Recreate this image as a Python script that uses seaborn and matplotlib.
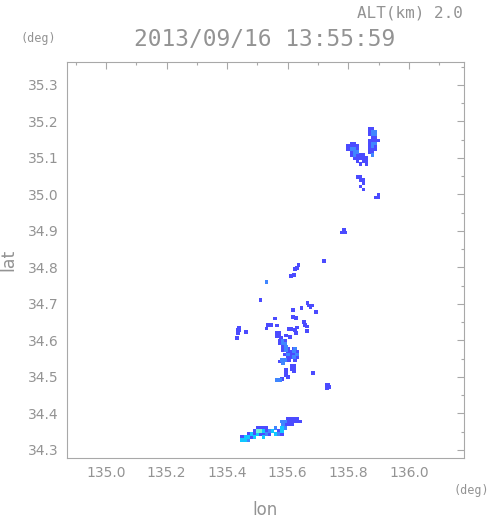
import matplotlib
matplotlib.use('Agg')  # no display
import matplotlib.pyplot as plt
import matplotlib.ticker as ticker
import seaborn as sns
import pandas as pd

# radar echo cells (lon, lat) grouped by intensity class
cells_blue = [
    # NE cluster, right part
    (135.87, 35.180), (135.88, 35.180), (135.87, 35.172), (135.87, 35.164),
    (135.88, 35.156), (135.89, 35.156), (135.87, 35.148), (135.88, 35.148),
    (135.89, 35.148), (135.90, 35.148), (135.87, 35.140), (135.87, 35.132),
    (135.89, 35.132), (135.87, 35.124), (135.88, 35.124), (135.89, 35.124),
    (135.87, 35.116), (135.88, 35.116),
    # NE cluster, left part
    (135.81, 35.140), (135.82, 35.140), (135.80, 35.132), (135.81, 35.132),
    (135.82, 35.132), (135.83, 35.132), (135.80, 35.124), (135.83, 35.124),
    (135.81, 35.116), (135.81, 35.108), (135.83, 35.108), (135.84, 35.108),
    (135.85, 35.108), (135.82, 35.100), (135.83, 35.100), (135.84, 35.100),
    (135.85, 35.100), (135.86, 35.100), (135.83, 35.092), (135.85, 35.092),
    (135.86, 35.092), (135.84, 35.084), (135.86, 35.084),
    # small ones further south
    (135.83, 35.048), (135.84, 35.048), (135.84, 35.040), (135.85, 35.040),
    (135.85, 35.032), (135.84, 35.022), (135.85, 35.014),
    (135.90, 34.998), (135.89, 34.992), (135.90, 34.992),
    (135.78, 34.896), (135.79, 34.896), (135.785, 34.902),
    # middle scattered echoes
    (135.635, 34.806), (135.63, 34.798), (135.625, 34.795),
    (135.61, 34.777), (135.62, 34.779), (135.72, 34.818),
    (135.51, 34.711),
    (135.665, 34.703), (135.67, 34.696), (135.68, 34.696), (135.675, 34.690),
    (135.645, 34.689), (135.693, 34.678), (135.617, 34.684),
    (135.617, 34.665), (135.627, 34.662), (135.558, 34.660),
    (135.44, 34.636), (135.435, 34.628), (135.44, 34.628), (135.435, 34.621),
    (135.432, 34.607), (135.462, 34.623),
    (135.535, 34.642), (135.545, 34.642), (135.53, 34.633), (135.565, 34.641),
    (135.605, 34.632), (135.612, 34.632),
    (135.63, 34.636), (135.623, 34.628), (135.627, 34.621),
    (135.654, 34.650), (135.658, 34.642), (135.664, 34.638), (135.663, 34.626),
    (135.563, 34.620), (135.572, 34.620), (135.565, 34.612), (135.572, 34.612),
    (135.578, 34.606), (135.595, 34.614), (135.607, 34.610),
    (135.573, 34.600), (135.593, 34.600), (135.573, 34.592),
    (135.585, 34.582), (135.585, 34.574),
    (135.60, 34.578), (135.62, 34.578),
    (135.60, 34.570), (135.61, 34.570), (135.63, 34.570),
    (135.59, 34.562), (135.61, 34.562), (135.62, 34.562),
    (135.60, 34.554), (135.61, 34.554), (135.63, 34.554),
    (135.605, 34.546), (135.625, 34.546), (135.575, 34.542),
    (135.613, 34.530), (135.62, 34.530), (135.613, 34.522), (135.62, 34.522),
    (135.62, 34.515), (135.595, 34.520), (135.595, 34.512), (135.595, 34.506),
    (135.60, 34.500), (135.58, 34.495), (135.683, 34.511),
    (135.728, 34.478), (135.735, 34.478), (135.73, 34.470), (135.737, 34.472),
    # southern band
    (135.60, 34.386), (135.61, 34.386), (135.62, 34.386), (135.63, 34.386),
    (135.60, 34.378), (135.61, 34.378), (135.62, 34.378), (135.63, 34.378),
    (135.64, 34.378), (135.595, 34.370), (135.605, 34.370), (135.615, 34.370),
    (135.45, 34.336), (135.47, 34.344), (135.48, 34.336), (135.49, 34.352),
    (135.49, 34.344), (135.50, 34.360), (135.51, 34.360), (135.51, 34.344),
    (135.52, 34.360), (135.52, 34.344), (135.53, 34.360), (135.53, 34.352),
    (135.54, 34.344), (135.57, 34.352), (135.58, 34.344),
]

cells_light = [
    (135.88, 35.172), (135.89, 35.172), (135.88, 35.164), (135.89, 35.164),
    (135.88, 35.140), (135.89, 35.140), (135.88, 35.132), (135.88, 35.108),
    (135.81, 35.124), (135.82, 35.124), (135.82, 35.116), (135.83, 35.116),
    (135.82, 35.108),
    (135.53, 34.761),
    (135.583, 34.600), (135.583, 34.592), (135.593, 34.592),
    (135.595, 34.582), (135.595, 34.574), (135.625, 34.578), (135.62, 34.570),
    (135.60, 34.562), (135.63, 34.562), (135.62, 34.554),
    (135.58, 34.546), (135.59, 34.546), (135.585, 34.538),
    (135.565, 34.492), (135.575, 34.492),
    (135.58, 34.378), (135.59, 34.378), (135.585, 34.370),
    (135.47, 34.328), (135.53, 34.344), (135.54, 34.352), (135.56, 34.360),
    (135.57, 34.344), (135.59, 34.360),
]

cells_cyan = [
    (135.45, 34.328), (135.46, 34.336), (135.46, 34.328), (135.47, 34.336),
    (135.48, 34.344), (135.49, 34.336), (135.50, 34.344), (135.52, 34.352),
    (135.52, 34.336), (135.55, 34.352), (135.56, 34.344), (135.58, 34.360),
    (135.58, 34.352),
]

cells_green = [
    (135.50, 34.352), (135.51, 34.352),
]

levels = ['blue', 'light', 'cyan', 'green']
level_colors = ['#4b4bff', '#3f86ff', '#10c8ff', '#70f5d5']

x_ticks = [135.0, 135.2, 135.4, 135.6, 135.8, 136.0]
y_ticks = [34.3, 34.4, 34.5, 34.6, 34.7, 34.8, 34.9, 35.0, 35.1, 35.2, 35.3]

rows = []
for name, cells in zip(levels, [cells_blue, cells_light, cells_cyan, cells_green]):
    for lon, lat in cells:
        rows.append((lon, lat, name))
df = pd.DataFrame(rows, columns=['lon', 'lat', 'level'])

sns.set_style('white')
plt.rcParams['font.family'] = ['DejaVu Sans']

grey = '#939393'
fig = plt.figure(figsize=(4.91, 5.21), dpi=100)
ax = fig.add_axes([0.1358, 0.1209, 0.8092, 0.7601])

sns.scatterplot(data=df, x='lon', y='lat', hue='level', hue_order=levels,
                palette=dict(zip(levels, level_colors)), marker='s', s=7,
                linewidth=0, legend=False, ax=ax)

ax.set_xlim(134.870, 136.182)
ax.set_ylim(34.278, 35.363)
ax.xaxis.set_major_locator(ticker.FixedLocator(x_ticks))
ax.xaxis.set_minor_locator(ticker.MultipleLocator(0.1))
ax.yaxis.set_major_locator(ticker.FixedLocator(y_ticks))
ax.yaxis.set_minor_locator(ticker.MultipleLocator(0.05))
ax.xaxis.set_major_formatter(ticker.FormatStrFormatter('%.1f'))
ax.yaxis.set_major_formatter(ticker.FormatStrFormatter('%.1f'))
ax.tick_params(which='both', direction='in', top=True, right=True,
               color='#a8a8a8', width=0.8, labelcolor=grey, labelsize=10)
ax.tick_params(which='major', length=5, pad=6)
ax.tick_params(which='minor', length=2.5)
for sp in ax.spines.values():
    sp.set_visible(True)
    sp.set_color('#a8a8a8')
    sp.set_linewidth(0.8)
ax.set_xlabel('')
ax.set_ylabel('')

fig.text(0.943, 0.975, 'ALT(km) 2.0', ha='right', va='center', color=grey,
         fontsize=11.5, family='DejaVu Sans Mono')
fig.text(0.538, 0.925, '2013/09/16 13:55:59', ha='center', va='center',
         color=grey, fontsize=16.5, family='DejaVu Sans Mono')
fig.text(0.0774, 0.927, '(deg)', ha='center', va='center', color=grey,
         fontsize=8.5, family='DejaVu Sans Mono')
fig.text(0.959, 0.0576, '(deg)', ha='center', va='center', color=grey,
         fontsize=8.5, family='DejaVu Sans Mono')
fig.text(0.54, 0.022, 'lon', ha='center', va='center', color=grey,
         fontsize=12)
fig.text(0.018, 0.501, 'lat', ha='center', va='center', rotation=90,
         color=grey, fontsize=12.5)

fig.savefig('out.png', dpi=100)
plt.close()
